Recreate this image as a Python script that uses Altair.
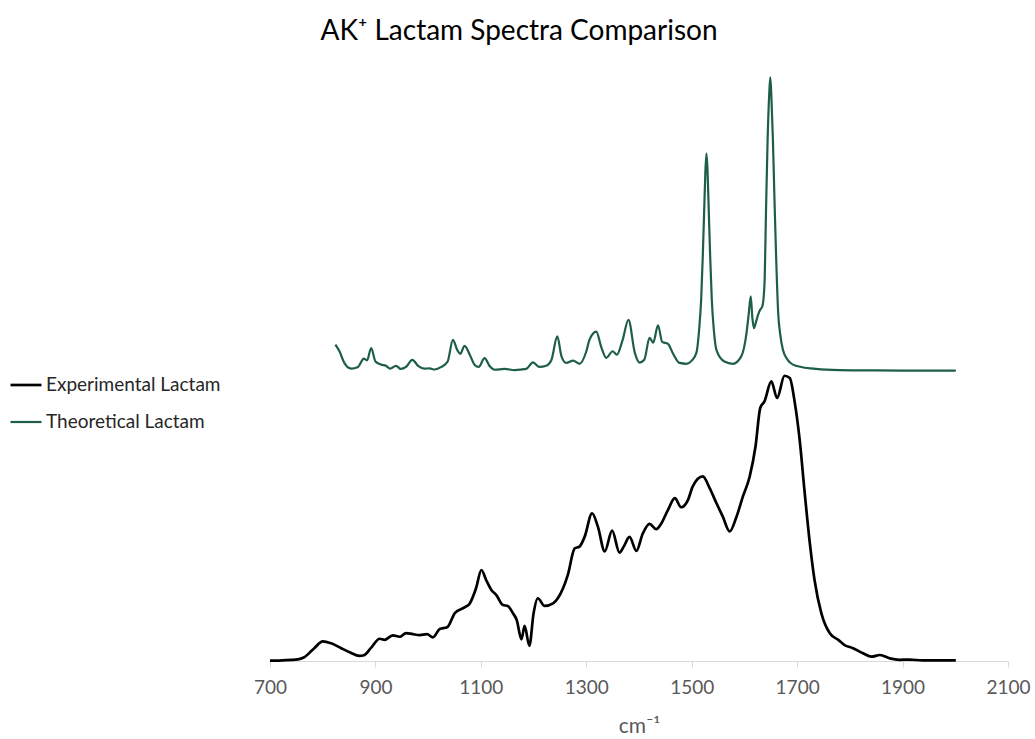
import altair as alt
import pandas as pd

# Experimental spectrum: wavenumber (cm-1) and normalised intensity
exp_wn = [700, 753, 764, 784, 800, 816, 835, 851, 870, 878, 892, 908, 917, 933, 946,
          958, 971, 984, 998, 1009, 1022, 1036, 1051, 1069, 1079, 1091, 1101, 1110,
          1120, 1129, 1142, 1151, 1161, 1168, 1177, 1183, 1192, 1200, 1208, 1221,
          1237, 1246, 1265, 1278, 1287, 1297, 1311, 1322, 1335, 1349, 1363, 1371,
          1382, 1395, 1407, 1420, 1433, 1442, 1455, 1468, 1480, 1493, 1502, 1521,
          1534, 1547, 1559, 1572, 1585, 1597, 1610, 1621, 1630, 1638, 1651, 1662,
          1676, 1686, 1695, 1705, 1714, 1724, 1733, 1746, 1762, 1778, 1790, 1806,
          1825, 1841, 1857, 1876, 1894, 1913, 1938, 1970, 2001]
exp_int = [0.001, 0.006, 0.012, 0.045, 0.069, 0.062, 0.045, 0.031, 0.018, 0.020,
           0.047, 0.078, 0.074, 0.090, 0.085, 0.098, 0.094, 0.091, 0.094, 0.083,
           0.112, 0.118, 0.169, 0.188, 0.202, 0.256, 0.319, 0.284, 0.249, 0.232,
           0.196, 0.193, 0.167, 0.144, 0.076, 0.123, 0.053, 0.167, 0.220, 0.193,
           0.202, 0.220, 0.302, 0.395, 0.401, 0.436, 0.518, 0.471, 0.384, 0.457,
           0.380, 0.401, 0.435, 0.386, 0.446, 0.481, 0.462, 0.481, 0.530, 0.571,
           0.539, 0.565, 0.612, 0.647, 0.606, 0.553, 0.506, 0.454, 0.506, 0.576,
           0.647, 0.752, 0.887, 0.910, 0.980, 0.922, 1.000, 0.992, 0.912, 0.772,
           0.596, 0.414, 0.284, 0.167, 0.097, 0.074, 0.056, 0.045, 0.027, 0.015,
           0.021, 0.009, 0.004, 0.005, 0.002, 0.002, 0.002]

# Theoretical spectrum, stacked above the experimental trace
theo_wn = [824, 832, 841, 854, 867, 878, 884, 892, 900, 911, 920, 928, 939, 948,
           958, 970, 981, 993, 1003, 1012, 1025, 1037, 1047, 1055, 1061, 1069, 1079,
           1088, 1096, 1107, 1117, 1126, 1145, 1164, 1186, 1199, 1211, 1224, 1234,
           1245, 1253, 1262, 1275, 1287, 1300, 1306, 1319, 1328, 1338, 1350, 1358,
           1369, 1380, 1392, 1401, 1410, 1420, 1427, 1436, 1444, 1455, 1464, 1477,
           1490, 1500, 1509, 1514, 1518, 1521, 1524, 1526, 1528, 1530, 1532, 1535,
           1538, 1542, 1547, 1562, 1578, 1594, 1604, 1608, 1612, 1615, 1618, 1622,
           1626, 1630, 1634, 1638, 1641, 1644, 1647, 1649, 1651, 1654, 1657, 1660,
           1664, 1668, 1673, 1682, 1692, 1710, 1736, 1780, 1831, 1900, 2001]
theo_int = [1.109, 1.085, 1.045, 1.025, 1.031, 1.060, 1.054, 1.097, 1.050, 1.039,
            1.035, 1.025, 1.035, 1.024, 1.031, 1.056, 1.035, 1.025, 1.026, 1.022,
            1.031, 1.050, 1.126, 1.091, 1.077, 1.105, 1.074, 1.039, 1.031, 1.062,
            1.033, 1.021, 1.024, 1.020, 1.024, 1.047, 1.031, 1.035, 1.056, 1.138,
            1.068, 1.045, 1.053, 1.042, 1.085, 1.126, 1.155, 1.103, 1.063, 1.086,
            1.074, 1.126, 1.196, 1.081, 1.046, 1.056, 1.133, 1.116, 1.177, 1.119,
            1.112, 1.080, 1.045, 1.042, 1.053, 1.081, 1.160, 1.270, 1.420, 1.600,
            1.720, 1.779, 1.720, 1.600, 1.420, 1.270, 1.160, 1.090, 1.050, 1.042,
            1.068, 1.150, 1.214, 1.278, 1.204, 1.167, 1.189, 1.214, 1.232, 1.243,
            1.319, 1.582, 1.828, 1.986, 2.046, 1.986, 1.828, 1.618, 1.425, 1.221,
            1.144, 1.091, 1.056, 1.039, 1.030, 1.024, 1.020, 1.019, 1.018, 1.018]

series_names = ["Experimental Lactam", "Theoretical Lactam"]
series_colors = ["#000000", "#1d5e45"]
series_widths = [2.7, 2.2]
x_ticks = [700, 900, 1100, 1300, 1500, 1700, 1900, 2100]

df = pd.concat([
    pd.DataFrame({"wn": exp_wn, "intensity": exp_int, "series": series_names[0]}),
    pd.DataFrame({"wn": theo_wn, "intensity": theo_int, "series": series_names[1]}),
], ignore_index=True)

chart = alt.Chart(df).mark_line(interpolate="monotone").encode(
    x=alt.X(
        "wn:Q",
        scale=alt.Scale(domain=[700, 2100], nice=False, zero=False),
        axis=alt.Axis(
            values=x_ticks, title="cm⁻¹", grid=False, format="d",
            domainColor="#d9d9d9", domainWidth=1,
            tickColor="#d9d9d9", tickSize=6, tickWidth=1,
            labelFont="Lato", labelFontSize=19, labelColor="#595959",
            labelPadding=11, labelFlush=False,
            titleFont="Lato", titleFontSize=21, titleFontWeight="normal",
            titleColor="#595959", titlePadding=18,
        ),
    ),
    y=alt.Y("intensity:Q", scale=alt.Scale(domain=[0, 2.1], nice=False, zero=True), axis=None),
    color=alt.Color(
        "series:N",
        scale=alt.Scale(domain=series_names, range=series_colors),
        legend=alt.Legend(
            title=None, orient="none", legendX=-261, legendY=306,
            symbolType="stroke", symbolSize=960, symbolStrokeWidth=2,
            labelFont="Lato", labelFontSize=19, labelColor="#262626",
            labelOffset=3, labelLimit=400, rowPadding=10, padding=0,
        ),
    ),
    strokeWidth=alt.StrokeWidth(
        "series:N",
        scale=alt.Scale(domain=series_names, range=series_widths),
        legend=None,
    ),
).properties(
    width=738,
    height=599,
    autosize="none",
    padding={"left": 270, "top": 62, "right": 27, "bottom": 78},
    title=alt.Title(
        "AK⁺ Lactam Spectra Comparison",
        font="Lato", fontSize=28, fontWeight="normal", color="#000000",
        anchor="middle", dx=-120, offset=16,
    ),
).configure_view(stroke=None)

chart.save("out.html", embed_options={"renderer": "svg", "actions": False})
